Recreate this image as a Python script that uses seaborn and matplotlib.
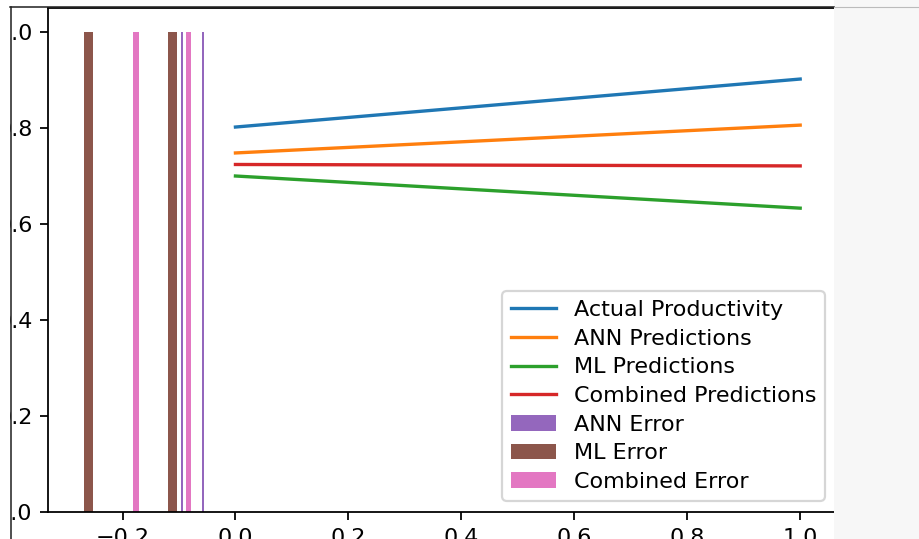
import numpy as np
import matplotlib
matplotlib.use("Agg")
import matplotlib.pyplot as plt
from matplotlib.patches import Rectangle
from matplotlib.lines import Line2D
import seaborn as sns


# DATA
samples = [0, 1]
actual_productivity = [0.802, 0.902]
ann_predictions = [0.748, 0.806]
ml_predictions = [0.700, 0.633]
combined_predictions = [0.724, 0.721]

ann_error = [-0.0554, -0.0970]
ml_error = [-0.1035, -0.2685]
combined_error = [-0.0780, -0.1810]


# FIGURE
fig = plt.figure(figsize=(919 / 160, 539 / 160), dpi=160)
ax = fig.add_axes([48 / 919, 27 / 539, 788 / 919, 504 / 539])

sns.lineplot(x=samples, y=actual_productivity, ax=ax, color='tab:blue', label='Actual Productivity')
sns.lineplot(x=samples, y=ann_predictions, ax=ax, color='tab:orange', label='ANN Predictions')
sns.lineplot(x=samples, y=ml_predictions, ax=ax, color='tab:green', label='ML Predictions')
sns.lineplot(x=samples, y=combined_predictions, ax=ax, color='tab:red', label='Combined Predictions')

sns.histplot(x=ann_error, bins=10, ax=ax, color='tab:purple', alpha=1, linewidth=0, label='ANN Error')
sns.histplot(x=ml_error, bins=10, ax=ax, color='tab:brown', alpha=1, linewidth=0, label='ML Error')
sns.histplot(x=combined_error, bins=10, ax=ax, color='tab:pink', alpha=1, linewidth=0, label='Combined Error')

ax.set_xlabel('')
ax.set_ylabel('')
ax.margins(x=0.05)
ax.set_ylim(0, 1.05)

handles, labels = ax.get_legend_handles_labels()
ax.legend(handles, labels, loc='lower right', labelspacing=0.39)


# screenshot crop: white strip + thin border on the left/top, grey panel on the right
fig.add_artist(Rectangle((0, 0), 10 / 919, 1, transform=fig.transFigure,
                         facecolor='white', edgecolor='none', zorder=20))
fig.add_artist(Line2D([10.5 / 919, 10.5 / 919], [0, 532 / 539], transform=fig.transFigure,
                      color='#222222', lw=0.7, zorder=21))
fig.add_artist(Line2D([10 / 919, 834 / 919], [532 / 539, 532 / 539], transform=fig.transFigure,
                      color='#222222', lw=0.7, zorder=21))
fig.add_artist(Rectangle((834 / 919, 0), 85 / 919, 1, transform=fig.transFigure,
                         facecolor='#f7f7f7', edgecolor='none', zorder=20))
fig.add_artist(Line2D([834 / 919, 1], [532 / 539, 532 / 539], transform=fig.transFigure,
                      color='#bbbbbb', lw=0.5, zorder=21))

fig.savefig('out.png', dpi=160)
